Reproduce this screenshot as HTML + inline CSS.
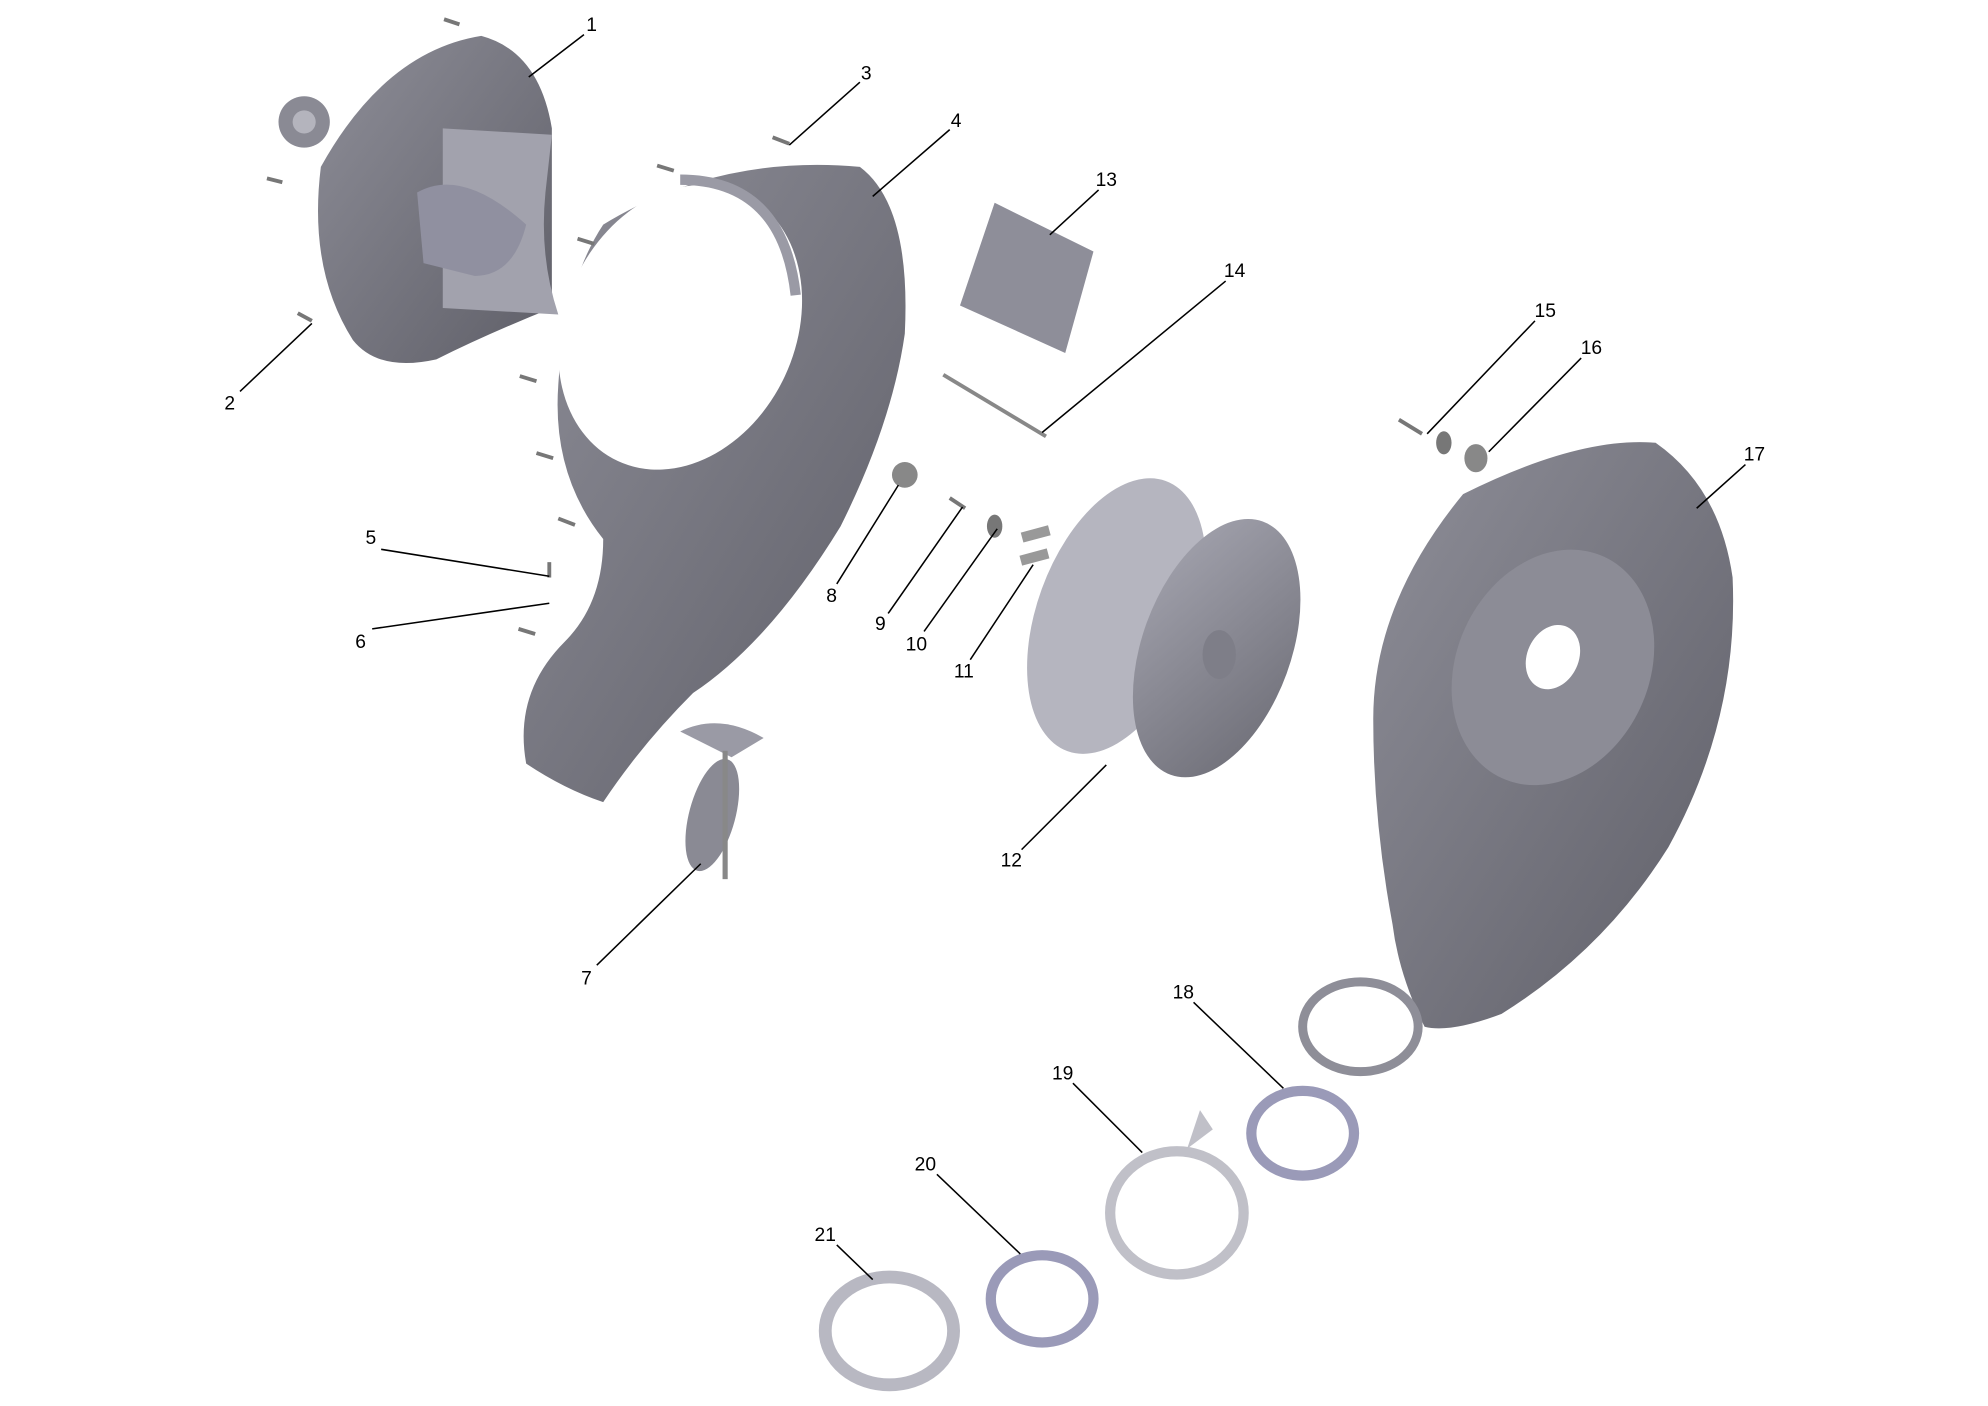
<!DOCTYPE html>
<html><head><meta charset="utf-8"><style>
html,body{margin:0;padding:0;background:#fff;}
svg{display:block;}
text{font-family:"Liberation Sans",sans-serif;font-size:15px;fill:#000;}
</style></head><body>
<svg width="1988" height="1406" viewBox="0 0 1549 1095.5" preserveAspectRatio="none" xmlns="http://www.w3.org/2000/svg">
<defs>
<linearGradient id="g" x1="0" y1="0" x2="1" y2="1"><stop offset="0" stop-color="#a5a5b0"/><stop offset="1" stop-color="#6c6c75"/></linearGradient>
<linearGradient id="g2" x1="0" y1="0" x2="1" y2="1"><stop offset="0" stop-color="#8e8e98"/><stop offset="1" stop-color="#5f5f68"/></linearGradient>
</defs>
<!-- part 1 plate -->
<path d="M250,130 Q300,40 375,28 Q420,40 430,100 L430,240 Q380,260 340,280 Q295,290 275,265 Q240,210 250,130Z" fill="url(#g2)"/>
<path d="M345,100 L430,105 L425,150 Q420,200 435,245 L345,240Z" fill="#a2a2ad"/>
<path d="M325,150 Q360,130 410,175 Q400,215 370,215 L330,205Z" fill="#9090a0"/>
<ellipse cx="237" cy="95" rx="20" ry="20" fill="#8a8a94"/><ellipse cx="237" cy="95" rx="9" ry="9" fill="#b4b4bd"/>
<!-- part 4 housing -->
<path d="M470,175 Q560,120 670,130 Q710,160 705,260 Q695,330 655,410 Q600,500 540,540 Q500,580 470,625 Q440,615 410,595 Q400,540 440,500 Q470,470 470,420 Q430,370 435,300 Q440,220 470,175Z" fill="url(#g2)"/>
<ellipse cx="530" cy="255" rx="90" ry="115" transform="rotate(25 530 255)" fill="#fff"/>
<path d="M530,140 Q610,140 620,230" stroke="#9a9aa5" stroke-width="8" fill="none"/>
<!-- part 7 -->
<path d="M530,570 Q560,555 595,575 L570,590Z" fill="#9a9aa5"/>
<ellipse cx="555" cy="635" rx="18" ry="45" transform="rotate(15 555 635)" fill="#8a8a94"/>
<rect x="563" y="585" width="4" height="100" fill="#888"/>
<!-- part 13 -->
<path d="M775,158 L852,196 L830,275 L748,238Z" fill="#8e8e99"/>
<!-- 14 rod -->
<line x1="735" y1="292" x2="815" y2="340" stroke="#888" stroke-width="3"/>
<!-- small screws -->
<g stroke="#777" stroke-width="3">
<line x1="346" y1="15" x2="358" y2="19"/><line x1="208" y1="139" x2="220" y2="142"/><line x1="232" y1="244" x2="243" y2="250"/>
<line x1="602" y1="107" x2="615" y2="112"/><line x1="512" y1="129" x2="525" y2="133"/><line x1="450" y1="186" x2="463" y2="190"/>
<line x1="405" y1="293" x2="418" y2="297"/><line x1="418" y1="353" x2="431" y2="357"/><line x1="435" y1="404" x2="448" y2="409"/>
<line x1="404" y1="490" x2="417" y2="494"/><line x1="428" y1="438" x2="428" y2="450"/>
<line x1="740" y1="388" x2="752" y2="396"/><line x1="1090" y1="327" x2="1108" y2="338"/>
</g>
<ellipse cx="775" cy="410" rx="6" ry="9" fill="#777"/>
<rect x="796" y="412" width="22" height="8" fill="#999" transform="rotate(-15 807 416)"/>
<rect x="795" y="430" width="22" height="8" fill="#999" transform="rotate(-15 806 434)"/>
<circle cx="705" cy="370" r="10" fill="#888"/>
<ellipse cx="1125" cy="345" rx="6" ry="9" fill="#777"/>
<ellipse cx="1150" cy="357" rx="9" ry="11" fill="#888"/>
<!-- part 12 wheel -->
<ellipse cx="870" cy="480" rx="62" ry="112" transform="rotate(20 870 480)" fill="#b5b5bf"/>
<ellipse cx="948" cy="505" rx="58" ry="105" transform="rotate(20 948 505)" fill="url(#g)"/>
<ellipse cx="950" cy="510" rx="13" ry="19" fill="#7e7e88"/>
<!-- part 17 -->
<path d="M1140,385 Q1230,340 1290,345 Q1340,380 1350,450 Q1355,560 1300,660 Q1250,740 1170,790 Q1130,805 1110,800 Q1090,760 1085,720 Q1070,640 1070,560 Q1070,470 1140,385Z" fill="url(#g2)"/>
<ellipse cx="1210" cy="520" rx="75" ry="95" transform="rotate(25 1210 520)" fill="#8c8c96"/>
<ellipse cx="1210" cy="512" rx="20" ry="26" transform="rotate(25 1210 512)" fill="#fff"/>
<ellipse cx="1060" cy="800" rx="45" ry="35" fill="none" stroke="#8e8e98" stroke-width="7"/>
<!-- rings -->
<ellipse cx="1015" cy="883" rx="40" ry="33" fill="none" stroke="#9a9ab8" stroke-width="8"/>
<ellipse cx="917" cy="945" rx="52" ry="48" fill="none" stroke="#c0c0c8" stroke-width="8"/>
<path d="M925,895 L935,865 L945,880Z" fill="#c0c0c8"/>
<ellipse cx="812" cy="1012" rx="40" ry="34" fill="none" stroke="#9a9ab8" stroke-width="8"/>
<ellipse cx="693" cy="1037" rx="50" ry="42" fill="none" stroke="#b8b8c2" stroke-width="10"/>
<!-- leader lines -->
<g stroke="#000" stroke-width="1.2">
<line x1="455" y1="27" x2="412" y2="60"/><line x1="187" y1="305" x2="243" y2="252"/>
<line x1="670" y1="64" x2="615" y2="113"/><line x1="740" y1="101" x2="680" y2="153"/>
<line x1="297" y1="428" x2="428" y2="449"/><line x1="290" y1="490" x2="428" y2="470"/>
<line x1="465" y1="752" x2="546" y2="673"/><line x1="652" y1="455" x2="700" y2="378"/>
<line x1="692" y1="478" x2="750" y2="395"/><line x1="720" y1="492" x2="777" y2="412"/>
<line x1="756" y1="514" x2="805" y2="440"/><line x1="796" y1="662" x2="862" y2="596"/>
<line x1="856" y1="148" x2="818" y2="183"/><line x1="955" y1="219" x2="812" y2="337"/>
<line x1="1196" y1="250" x2="1112" y2="338"/><line x1="1232" y1="279" x2="1160" y2="352"/>
<line x1="1360" y1="362" x2="1322" y2="396"/><line x1="930" y1="781" x2="1000" y2="848"/>
<line x1="836" y1="844" x2="890" y2="898"/><line x1="730" y1="915" x2="795" y2="977"/>
<line x1="652" y1="970" x2="680" y2="997"/>
</g>
<g text-anchor="middle">
<text x="461" y="24">1</text><text x="179" y="319">2</text><text x="675" y="62">3</text><text x="745" y="99">4</text>
<text x="289" y="424">5</text><text x="281" y="505">6</text><text x="457" y="767">7</text><text x="648" y="469">8</text>
<text x="686" y="491">9</text><text x="714" y="507">10</text><text x="751" y="528">11</text><text x="788" y="675">12</text>
<text x="862" y="145">13</text><text x="962" y="216">14</text><text x="1204" y="247">15</text><text x="1240" y="276">16</text>
<text x="1367" y="359">17</text><text x="922" y="778">18</text><text x="828" y="841">19</text><text x="721" y="912">20</text>
<text x="643" y="967">21</text>
</g>
</svg>
</body></html>
